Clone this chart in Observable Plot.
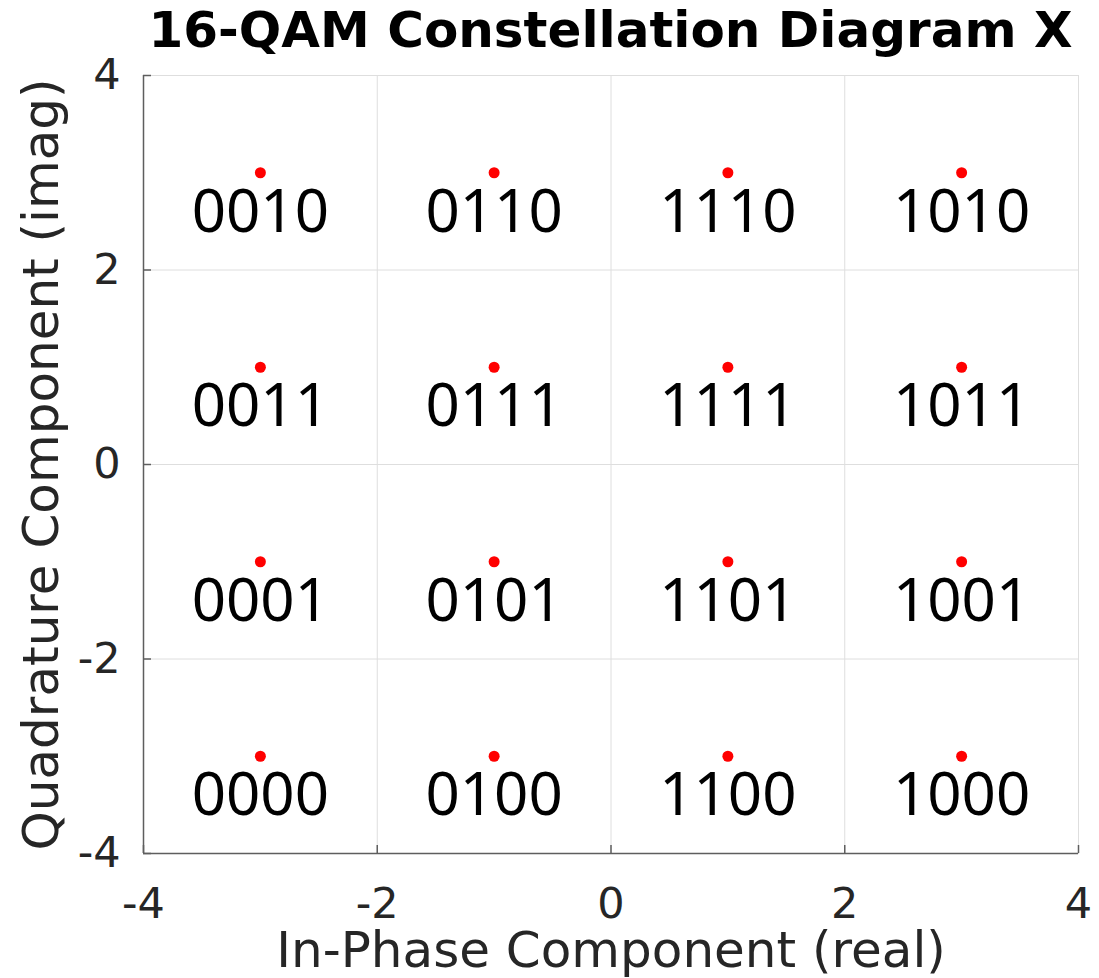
<!DOCTYPE html>
<html>
<head>
<meta charset="utf-8">
<script src="https://cdn.jsdelivr.net/npm/d3@7"></script>
<script src="https://cdn.jsdelivr.net/npm/@observablehq/plot@0.6"></script>
<style>
  html, body { margin: 0; padding: 0; background: #fff; }
  #title {
    width: 1099px; box-sizing: border-box;
    padding-left: 143px; padding-right: 21px;
    height: 60px; line-height: 60px;
    font-family: "DejaVu Sans", sans-serif; font-weight: bold; font-size: 50px;
    text-align: center; color: #000; white-space: nowrap;
  }
</style>
</head>
<body>
<div id="title">16-QAM Constellation Diagram X</div>
<div id="chart"></div>
<script>
const titleText = "16-QAM Constellation Diagram X";
const xLabel = "In-Phase Component (real)";
const yLabel = "Quadrature Component (imag)";
const tickValues = [-4, -2, 0, 2, 4];

const inPhase    = [-3, -1, 1, 3,  -3, -1, 1, 3,  -3, -1, 1, 3,  -3, -1, 1, 3];
const quadrature = [ 3,  3, 3, 3,   1,  1, 1, 1,  -1, -1, -1, -1, -3, -3, -3, -3];
const bits = ["0010", "0110", "1110", "1010",
              "0011", "0111", "1111", "1011",
              "0001", "0101", "1101", "1001",
              "0000", "0100", "1100", "1000"];

const points = bits.map((b, i) => ({ x: inPhase[i], y: quadrature[i], bits: b }));

const axisColor = "#5e5e5e";
const gridColor = "#dedede";
const textColor = "#262626";
const fmt = d => String(d);

const chart = Plot.plot({
  width: 1099,
  height: 918,
  marginTop: 15,
  marginBottom: 125,
  marginLeft: 143,
  marginRight: 21,
  style: { fontFamily: "DejaVu Sans, sans-serif", background: "#fff", overflow: "visible" },
  x: { domain: [-4, 4] },
  y: { domain: [-4, 4] },
  marks: [
    Plot.gridX(tickValues, { stroke: gridColor, strokeOpacity: 1 }),
    Plot.gridY(tickValues, { stroke: gridColor, strokeOpacity: 1 }),
    Plot.frame({ stroke: gridColor }),
    Plot.ruleY([-4], { stroke: axisColor, strokeWidth: 1.5 }),
    Plot.ruleX([-4], { stroke: axisColor, strokeWidth: 1.5 }),
    Plot.axisX(tickValues, { anchor: "bottom", tickSize: -8, text: null, label: null, stroke: axisColor, strokeWidth: 1.5 }),
    Plot.axisY(tickValues, { anchor: "left", tickSize: -8, text: null, label: null, stroke: axisColor, strokeWidth: 1.5 }),
    Plot.axisX(tickValues, { anchor: "bottom", tickSize: 0, tickPadding: 34, fontSize: 43, fill: textColor, label: null, tickFormat: fmt }),
    Plot.axisY(tickValues, { anchor: "left", tickSize: 0, tickPadding: 23, fontSize: 43, fill: textColor, label: null, tickFormat: fmt }),
    Plot.dot(points, { x: "x", y: "y", r: 5.5, fill: "#ff0000", stroke: null }),
    Plot.text(points, { x: "x", y: "y", text: "bits", dy: 40, fontSize: 60, fontFamily: "Noto Sans", fill: "#000" }),
    Plot.text([xLabel], { frameAnchor: "bottom", lineAnchor: "middle", textAnchor: "middle", dy: 97, fontSize: 50, fill: textColor }),
    Plot.text([yLabel], { frameAnchor: "left", lineAnchor: "middle", textAnchor: "middle", dx: -102, rotate: -90, fontSize: 50, fill: textColor })
  ]
});
document.getElementById("chart").appendChild(chart);
</script>
</body>
</html>
